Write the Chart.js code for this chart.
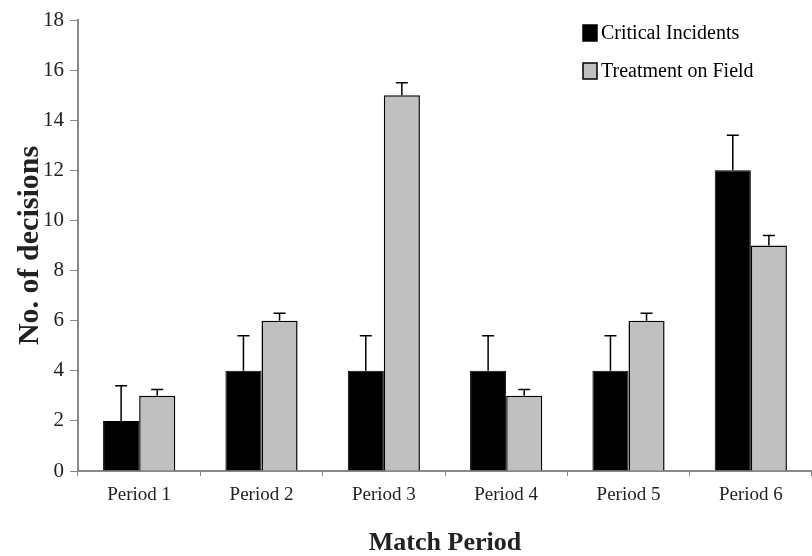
<!DOCTYPE html>
<html>
<head>
<meta charset="utf-8">
<script src="https://cdn.jsdelivr.net/npm/chart.js@4/dist/chart.umd.min.js"></script>
<style>
  html, body { margin: 0; padding: 0; background: #fff; }
  #wrap { width: 812px; height: 556px; }
</style>
</head>
<body>
<div id="wrap"><canvas id="chart"></canvas></div>
<script>
// Chart values
const periods = ['Period 1', 'Period 2', 'Period 3', 'Period 4', 'Period 5', 'Period 6'];
const criticalIncidents = [2, 4, 4, 4, 4, 12];
const criticalErr = [1.4, 1.4, 1.4, 1.4, 1.4, 1.4];
const treatmentOnField = [3, 6, 15, 3, 6, 9];
const treatmentErr = [0.25, 0.3, 0.5, 0.25, 0.3, 0.4];
const yTicks = [0, 2, 4, 6, 8, 10, 12, 14, 16, 18];

const serif = '"Liberation Serif", "DejaVu Serif", serif';

// Upper error bars, drawn through the chart's own scales
const errorBars = {
    id: 'errorBars',
    afterDatasetsDraw: function(chart) {
        const ctx = chart.ctx;
        const yScale = chart.scales.y;
        const errs = [criticalErr, treatmentErr];
        ctx.save();
        ctx.strokeStyle = '#000';
        ctx.lineWidth = 1.5;
        chart.data.datasets.forEach(function(ds, i) {
            const meta = chart.getDatasetMeta(i);
            meta.data.forEach(function(bar, j) {
                const top = yScale.getPixelForValue(ds.data[j] + errs[i][j]);
                ctx.beginPath();
                ctx.moveTo(bar.x, bar.y);
                ctx.lineTo(bar.x, top);
                ctx.moveTo(bar.x - 6, top);
                ctx.lineTo(bar.x + 6, top);
                ctx.stroke();
            });
        });
        ctx.restore();
    }
};

// Legend in the top right corner, as in the figure
const boxLegend = {
    id: 'boxLegend',
    afterDraw: function(chart) {
        const ctx = chart.ctx;
        ctx.save();
        ctx.font = '20px ' + serif;
        ctx.textBaseline = 'middle';
        chart.data.datasets.forEach(function(ds, i) {
            const y = 33 + i * 38;
            ctx.fillStyle = ds.backgroundColor;
            ctx.fillRect(583, y - 8, 14, 16);
            ctx.strokeStyle = '#000';
            ctx.lineWidth = 1.5;
            ctx.strokeRect(583, y - 8, 14, 16);
            ctx.fillStyle = '#000';
            ctx.fillText(ds.label, 601, y + 1);
        });
        ctx.restore();
    }
};

const ctx = document.getElementById('chart').getContext('2d');
new Chart(ctx, {
    type: 'bar',
    data: {
        labels: periods,
        datasets: [
            {
                label: 'Critical Incidents',
                data: criticalIncidents,
                backgroundColor: '#000000',
                borderColor: '#000000',
                borderWidth: 1
            },
            {
                label: 'Treatment on Field',
                data: treatmentOnField,
                backgroundColor: '#c0c0c0',
                borderColor: '#000000',
                borderWidth: 1.5
            }
        ]
    },
    options: {
        responsive: true,
        maintainAspectRatio: false,
        animation: false,
        layout: { padding: { top: 20, right: 0, left: 0, bottom: 0 } },
        datasets: {
            bar: { categoryPercentage: 0.59, barPercentage: 1.0 }
        },
        plugins: {
            legend: { display: false },
            tooltip: { enabled: false }
        },
        scales: {
            x: {
                afterFit: function(scale) { scale.height = 85; },
                grid: {
                    display: true,
                    offset: true,
                    drawOnChartArea: false,
                    drawTicks: true,
                    tickLength: 5,
                    color: '#888'
                },
                border: { color: '#888', width: 2 },
                ticks: {
                    color: '#222',
                    font: { family: serif, size: 19 },
                    padding: 8
                },
                title: {
                    display: true,
                    text: 'Match Period',
                    color: '#222',
                    font: { family: serif, size: 26, weight: 'bold' },
                    padding: { top: 21, bottom: -3 }
                }
            },
            y: {
                min: 0,
                max: 18,
                afterFit: function(scale) { scale.width = 78; },
                afterBuildTicks: function(scale) {
                    scale.ticks = yTicks.map(function(v) { return { value: v }; });
                },
                grid: {
                    display: true,
                    drawOnChartArea: false,
                    drawTicks: true,
                    tickLength: 8,
                    color: '#888'
                },
                border: { color: '#888', width: 2 },
                ticks: {
                    color: '#222',
                    font: { family: serif, size: 21 },
                    padding: 6
                },
                title: {
                    display: true,
                    text: 'No. of decisions',
                    color: '#222',
                    font: { family: serif, size: 30, weight: 'bold' },
                    padding: { top: 12, bottom: 0 }
                }
            }
        }
    },
    plugins: [errorBars, boxLegend]
});
</script>
</body>
</html>
